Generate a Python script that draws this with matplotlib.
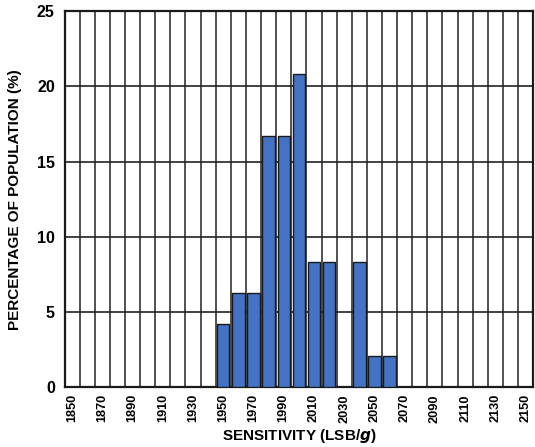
import matplotlib.pyplot as plt
import numpy as np

plt.rcParams['font.family'] = ['Liberation Sans', 'DejaVu Sans']

# sensitivity bins (LSB/g) and share of population (%)
bins = list(range(1850, 2160, 10))
pct = {1950: 4.17, 1960: 6.25, 1970: 6.25, 1980: 16.67, 1990: 16.67,
       2000: 20.83, 2010: 8.33, 2020: 8.33, 2030: 0.0, 2040: 8.33,
       2050: 2.08, 2060: 2.08}
values = [pct.get(b, 0.0) for b in bins]
tick_labels = [str(b) if i % 2 == 0 else '' for i, b in enumerate(bins)]
y_ticks = [0, 5, 10, 15, 20, 25]

fig = plt.figure(figsize=(5.35, 4.47), dpi=100)
ax = fig.add_axes([0.1206, 0.134, 0.876, 0.841])

x = np.arange(len(bins))
ax.bar(x, values, width=0.82, color='#4472C4', edgecolor='#1a1a1a',
       linewidth=1.0, zorder=3)

# vertical grid between bins, horizontal grid at y ticks
for k in range(len(bins) - 1):
    ax.axvline(k + 0.5, color='#333333', linewidth=1.2, zorder=1)
for yv in y_ticks[1:-1]:
    ax.axhline(yv, color='#222222', linewidth=1.2, zorder=1)

ax.set_xlim(-0.5, len(bins) - 0.5)
ax.set_ylim(0, 25)
ax.set_xticks(x)
ax.set_xticklabels(tick_labels, rotation=90, fontsize=9.2, fontweight='bold')
ax.set_yticks(y_ticks)
ax.set_yticklabels([str(v) for v in y_ticks], fontsize=11.5, fontweight='bold')
ax.tick_params(axis='x', length=0, pad=5)
ax.tick_params(axis='y', length=0, pad=7)

for s in ax.spines.values():
    s.set_linewidth(1.6)
    s.set_color('#1a1a1a')

ax.set_xlabel('SENSITIVITY (LSB/$\\mathbfit{g}$)', fontsize=11, fontweight='bold')
ax.set_ylabel('PERCENTAGE OF POPULATION (%)', fontsize=11, fontweight='bold', labelpad=11)
ax.xaxis.set_label_coords(0.5, -0.106)

fig.savefig('out.png', dpi=100)
